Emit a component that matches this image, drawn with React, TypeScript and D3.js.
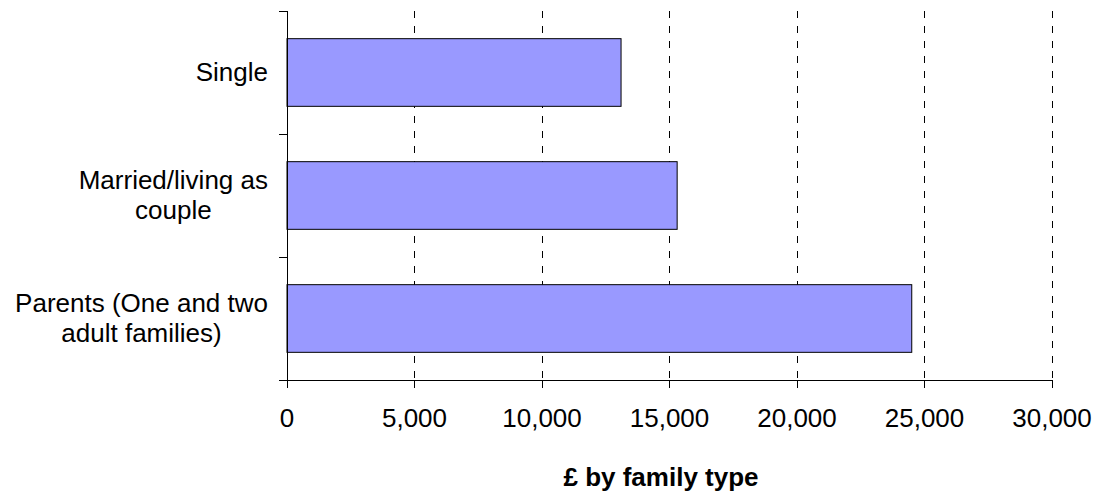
import React, { useEffect, useRef } from "react";
import * as d3 from "d3";

const categories: string[][] = [
  ["Single"],
  ["Married/living as", "couple"],
  ["Parents (One and two", "adult families)"],
];
const values: number[] = [13100, 15300, 24500];
const xTicks: number[] = [0, 5000, 10000, 15000, 20000, 25000, 30000];
const xTitle = "£ by family type";

const W = 1097;
const H = 493;
const M = { left: 287, right: 1052, top: 11, bottom: 380 };
const FONT = "'Liberation Sans', Arial, sans-serif";

export default function App() {
  const ref = useRef<SVGSVGElement | null>(null);

  useEffect(() => {
    const svg = d3.select(ref.current);
    svg.selectAll("*").remove();

    const x = d3.scaleLinear().domain([0, 30000]).range([M.left, M.right]);
    const y = d3
      .scaleBand<number>()
      .domain(d3.range(categories.length))
      .range([M.top, M.bottom])
      .paddingInner(0.45)
      .paddingOuter(0.225);
    const step = y.step();

    // gridlines
    svg
      .append("g")
      .selectAll("line")
      .data(xTicks.filter((t) => t > 0))
      .join("line")
      .attr("x1", (d) => x(d))
      .attr("x2", (d) => x(d))
      .attr("y1", M.top)
      .attr("y2", M.bottom)
      .attr("stroke", "#000")
      .attr("stroke-width", 1)
      .attr("stroke-dasharray", "7,8")
      .attr("shape-rendering", "crispEdges");

    // bars
    svg
      .append("g")
      .selectAll("rect")
      .data(values)
      .join("rect")
      .attr("x", x(0))
      .attr("y", (_, i) => y(i)!)
      .attr("width", (d) => x(d) - x(0))
      .attr("height", y.bandwidth())
      .attr("fill", "#9999FF")
      .attr("stroke", "#000")
      .attr("stroke-width", 1);

    // y axis line and ticks
    const ax = svg.append("g").attr("shape-rendering", "crispEdges");
    ax.append("line")
      .attr("x1", M.left)
      .attr("x2", M.left)
      .attr("y1", M.top)
      .attr("y2", M.bottom)
      .attr("stroke", "#000");
    const yTickPos = d3.range(categories.length + 1).map((i) => M.top + i * step);
    ax.selectAll(".yt")
      .data(yTickPos)
      .join("line")
      .attr("class", "yt")
      .attr("x1", M.left - 8)
      .attr("x2", M.left)
      .attr("y1", (d) => d)
      .attr("y2", (d) => d)
      .attr("stroke", "#000");

    // x axis line and ticks
    ax.append("line")
      .attr("x1", M.left - 8)
      .attr("x2", M.right)
      .attr("y1", M.bottom)
      .attr("y2", M.bottom)
      .attr("stroke", "#000");
    ax.selectAll(".xt")
      .data(xTicks)
      .join("line")
      .attr("class", "xt")
      .attr("x1", (d) => x(d))
      .attr("x2", (d) => x(d))
      .attr("y1", M.bottom)
      .attr("y2", M.bottom + 8)
      .attr("stroke", "#000");

    const fmt = d3.format(",");
    svg
      .append("g")
      .selectAll("text")
      .data(xTicks)
      .join("text")
      .attr("x", (d) => x(d))
      .attr("y", 427)
      .attr("text-anchor", "middle")
      .attr("font-family", FONT)
      .attr("font-size", 26)
      .attr("fill", "#000")
      .text((d) => fmt(d));

    // category labels
    const labelRight = 268;
    categories.forEach((lines, i) => {
      const cy = y(i)! + y.bandwidth() / 2;
      const n = lines.length;
      const g = svg.append("g");
      const texts = lines.map((ln, j) =>
        g
          .append("text")
          .attr("font-family", FONT)
          .attr("font-size", 26)
          .attr("fill", "#000")
          .attr("text-anchor", "middle")
          .attr("y", cy + 8 + (j - (n - 1) / 2) * 30)
          .text(ln)
      );
      const widths = texts.map((t) => (t.node() as SVGTextElement).getComputedTextLength());
      const maxW = d3.max(widths) || 0;
      texts.forEach((t) => t.attr("x", labelRight - maxW / 2));
    });

    // x title
    svg
      .append("text")
      .attr("x", 661)
      .attr("y", 486)
      .attr("text-anchor", "middle")
      .attr("font-family", FONT)
      .attr("font-size", 26)
      .attr("font-weight", "bold")
      .attr("fill", "#000")
      .text(xTitle);
  }, []);

  return (
    <div style={{ position: "absolute", left: 0, top: 0, width: W, height: H, background: "#fff" }}>
      <svg ref={ref} width={W} height={H} style={{ display: "block" }} />
    </div>
  );
}
